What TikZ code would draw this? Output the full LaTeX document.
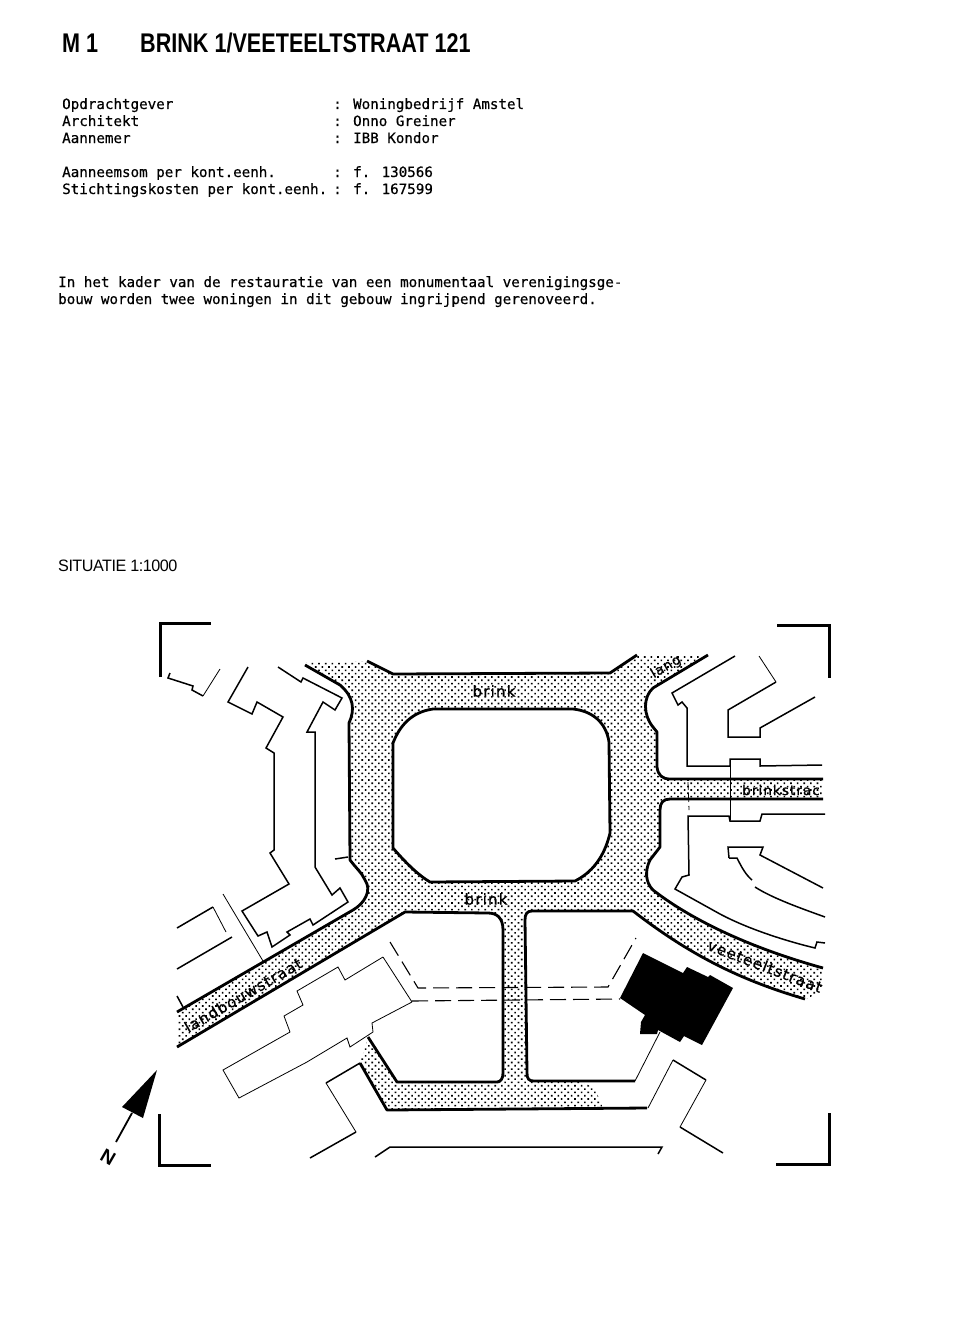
\documentclass[tikz,border=0pt]{standalone}
\usepackage{fontspec}
\usepackage{tikz}
\usetikzlibrary{patterns.meta}
\usetikzlibrary{positioning}
\setmainfont{Liberation Sans}
\newfontfamily\typefont[FakeBold=0.5]{DejaVu Sans Mono}
\newfontfamily\titlefont[FakeStretch=0.8]{Liberation Sans Bold}
\newfontfamily\captionfont[FakeStretch=0.98,LetterSpace=-3]{Liberation Sans}
\newfontfamily\mapfont[LetterSpace=8,FakeBold=0.8]{DejaVu Sans}
\tikzstyle{typed} = [font=\typefont\fontsize{14.2}{17}\selectfont, anchor=base west, inner sep=0pt]
\tikzstyle{head} = [font=\titlefont\fontsize{27}{30}\selectfont, anchor=base west, inner sep=0pt]
\tikzstyle{maplabel} = [font=\mapfont\fontsize{15}{17}\selectfont, inner sep=0pt]
\tikzstyle{road} = [draw, line width=2.8pt, line join=round]
\tikzstyle{wall} = [draw, line width=1.5pt, line join=miter]
\tikzstyle{thin} = [draw, line width=0.8pt]
\tikzstyle{crop} = [draw, line width=3pt]
\tikzstyle{dash line} = [draw, line width=1.1pt, dash pattern=on 16pt off 7pt]
\begin{document}
\begin{tikzpicture}[x=1pt,y=-1pt]
    \useasboundingbox (0,0) rectangle (975,1335);
    % Place text
    \node [head] (num) at (62,53) {M 1};
    \node [head] (title) at (140,53) {BRINK 1/VEETEELTSTRAAT 121};
    \node [typed] (r1) at (62,109) {Opdrachtgever};
    \node [typed] (r2) at (62,126) {Architekt};
    \node [typed] (r3) at (62,143) {Aannemer};
    \node [typed] (r4) at (62,177) {Aanneemsom per kont.eenh.};
    \node [typed] (r5) at (62,194) {Stichtingskosten per kont.eenh.};
    \node [typed] (v1) at (333,109) {: Woningbedrijf Amstel};
    \node [typed] (v2) at (333,126) {: Onno Greiner};
    \node [typed] (v3) at (333,143) {: IBB Kondor};
    \node [typed] (v4) at (333,177) {: f. 130566};
    \node [typed] (v5) at (333,194) {: f. 167599};
    \node [typed] (p1) at (58,287) {In het kader van de restauratie van een monumentaal verenigingsge-};
    \node [typed] (p2) at (58,304) {bouw worden twee woningen in dit gebouw ingrijpend gerenoveerd.};
    \node [anchor=base west, inner sep=0pt, font=\captionfont\fontsize{16.5}{18}\selectfont] (sit) at (58,571) {SITUATIE 1:1000};
    % Roads
    \fill [pattern={Dots[radius=1.15pt,distance=4.7pt,angle=45]}, pattern color=black]
        (305,662) -- (367,661) -- (393,674) -- (610,673) -- (637,655) -- (710,655) -- (653,688)
        .. controls (643,697) and (643,715) .. (653,727) -- (657,732) -- (657,767)
        .. controls (658,775) and (662,779) .. (670,779) -- (823,779) -- (823,799) -- (670,799)
        .. controls (663,799) and (660,803) .. (660,810) -- (660,847) -- (650,860)
        .. controls (645,870) and (645,882) .. (653,890)
        .. controls (685,915) and (740,945) .. (823,968) -- (823,990) -- (805,1000)
        .. controls (740,980) and (690,955) .. (633,911) -- (532,911)
        .. controls (527,911) and (525,914) .. (525,920) -- (527,1073)
        .. controls (527,1079) and (529,1081) .. (534,1081) -- (580,1082)
        .. controls (595,1085) and (598,1095) .. (603,1108) -- (387,1110) -- (360,1063) -- (368,1037)
        -- (397,1082) -- (497,1082) .. controls (501,1082) and (503,1078) .. (503,1073) -- (503,930)
        .. controls (503,918) and (497,913) .. (488,913) -- (405,912) -- (177,1047) -- (177,1012) -- (353,910)
        .. controls (365,903) and (372,890) .. (365,880) .. controls (362,873) and (356,868) .. (350,860)
        -- (349,723) .. controls (355,710) and (354,697) .. (340,685) -- cycle;
    \filldraw [road, fill=white] (433,709) -- (573,709) .. controls (592,711) and (606,722) .. (609,742)
        -- (610,833) .. controls (606,850) and (597,870) .. (575,881) -- (430,882)
        .. controls (418,875) and (405,862) .. (393,848) -- (393,743)
        .. controls (400,725) and (412,712) .. (433,709);
    % Road edges
    \path [road] (305,665) -- (340,685) .. controls (354,697) and (355,710) .. (349,723) -- (350,860)
        .. controls (356,868) and (362,873) .. (365,880) .. controls (372,890) and (365,903) .. (353,910) -- (177,1012);
    \path [road] (177,1047) -- (405,912) -- (488,913) .. controls (497,913) and (503,918) .. (503,930) -- (503,1073)
        .. controls (503,1078) and (501,1082) .. (497,1082) -- (397,1082) -- (368,1037);
    \path [road] (367,661) -- (393,674) -- (610,673) -- (637,655);
    \path [road] (708,655) -- (653,688) .. controls (643,697) and (643,715) .. (653,727) -- (657,732) -- (657,767)
        .. controls (658,775) and (662,779) .. (670,779) -- (823,779);
    \path [road] (823,799) -- (670,799) .. controls (663,799) and (660,803) .. (660,810) -- (660,847) -- (650,860)
        .. controls (645,870) and (645,882) .. (653,890) .. controls (685,915) and (740,945) .. (823,968);
    \path [road] (805,999) .. controls (740,980) and (690,955) .. (633,911) -- (532,911)
        .. controls (527,911) and (525,914) .. (525,920) -- (527,1073) .. controls (527,1079) and (529,1081) .. (534,1081) -- (635,1081);
    \path [road] (360,1063) -- (387,1110) -- (647,1108);
    % Building
    \fill [black] (643,953) -- (683,973) -- (687,967) -- (708,977) -- (710,975) -- (733,988) -- (702,1045)
        -- (684,1036) -- (680,1042) -- (658,1030) -- (657,1034) -- (640,1034) -- (641,1022) -- (645,1015) -- (620,998) -- cycle;
    % Walls
    \path [wall] (170,673) -- (168,678) -- (193,686) -- (192,690) -- (203,696);
    \path [thin] (203,696) -- (220,669);
    \path [wall] (248,667) -- (228,702) -- (252,714) -- (257,702) -- (283,717) -- (266,748) -- (274,753) -- (274,850)
        -- (270,853) -- (289,884) -- (242,911) -- (258,936) -- (267,932) -- (272,947) -- (290,935) -- (287,932)
        -- (310,919) -- (313,925) -- (348,902) -- (340,888) -- (332,895) -- (315,867) -- (315,732) -- (307,732)
        -- (323,702) -- (335,710) -- (342,698) -- (303,678) -- (301,682) -- (278,667);
    \path [wall] (335,859) -- (348,857);
    \path [wall] (177,928) -- (213,907);
    \path [thin] (213,907) -- (226,932);
    \path [wall] (177,969) -- (232,937);
    \path [wall] (177,996) -- (183,1007);
    \path [thin] (223,894) -- (263,961);
    \path [wall] (735,656) -- (672,693) -- (678,705) -- (682,702) -- (687,708) -- (687,766) -- (730,766) -- (730,759)
        -- (760,759) -- (760,766) -- (822,765);
    \path [thin] (730,759) -- (730,820);
    \path [thin, dash pattern=on 8pt off 4pt] (688,782) -- (689,810);
    \path [thin] (759,656) -- (776,682);
    \path [wall] (776,682) -- (728,710) -- (728,737) -- (760,737) -- (760,728) -- (815,697);
    \path [wall] (825,814) -- (762,814) -- (760,821) -- (730,821) -- (729,816) -- (688,816) -- (689,875) -- (682,877)
        -- (675,889) -- (720,914) .. controls (750,930) and (790,942) .. (815,948) -- (817,942) -- (825,943);
    \path [wall] (729,858) -- (728,847) -- (763,847) -- (760,855) -- (823,888);
    \path [wall] (729,858) -- (737,858) .. controls (742,868) and (746,875) .. (752,880);
    \path [wall] (755,887) .. controls (772,898) and (800,908) .. (825,917);
    % Lower walls
    \path [thin] (383,957) -- (412,1002);
    \path [thin] (383,957) -- (345,980) -- (338,967) -- (297,991) -- (303,1005) -- (284,1016) -- (290,1032)
        -- (223,1070) -- (239,1098) -- (307,1062) -- (347,1038) -- (350,1047) -- (373,1032) -- (372,1023) -- (412,1002);
    \path [dash line] (390,942) -- (418,988) -- (608,987) -- (636,938);
    \path [dash line] (412,1001) -- (620,999);
    \path [wall] (360,1063) -- (326,1083);
    \path [thin] (326,1083) -- (356,1132);
    \path [wall] (356,1132) -- (310,1158);
    \path [wall] (375,1157) -- (390,1147) -- (662,1147) -- (658,1154);
    \path [thin] (660,1032) -- (635,1081);
    \path [thin] (648,1108) -- (673,1060);
    \path [wall] (673,1060) -- (706,1080);
    \path [thin] (706,1080) -- (680,1127);
    \path [wall] (680,1127) -- (723,1153);
    % Crop marks
    \path [crop] (160,677) -- (160,623) -- (211,623);
    \path [crop] (777,625) -- (829,625) -- (829,678);
    \path [crop] (159,1114) -- (159,1165) -- (211,1165);
    \path [crop] (829,1113) -- (829,1164) -- (776,1164);
    % North arrow
    \coordinate (tail) at (116,1142);
    \coordinate (tip) at (157,1070);
    \fill [black] (tip) -- (122,1107) -- (143,1118) -- cycle;
    \draw [line width=1.8pt] (tail) -- (132,1113);
    \node [font=\bfseries\fontsize{19}{19}\selectfont, rotate=-30, inner sep=0pt] (north) at (108,1157) {N};
    % Street names
    \node [maplabel] (brink1) at (494,691) {brink};
    \node [maplabel] (brink2) at (486,899) {brink};
    \node [maplabel, font=\mapfont\fontsize{13.5}{15}\selectfont] (brinkstr) at (781,790) {brinkstrac};
    \node [maplabel, rotate=30] (landb) at (243,995) {landbouwstraat};
    \node [maplabel, rotate=30, font=\mapfont\fontsize{13.5}{15}\selectfont] (lang) at (666,667) {lang};
    \node [maplabel, rotate=-21] (veeteelt) at (765,966) {veeteeltstraat};
\end{tikzpicture}
\end{document}
